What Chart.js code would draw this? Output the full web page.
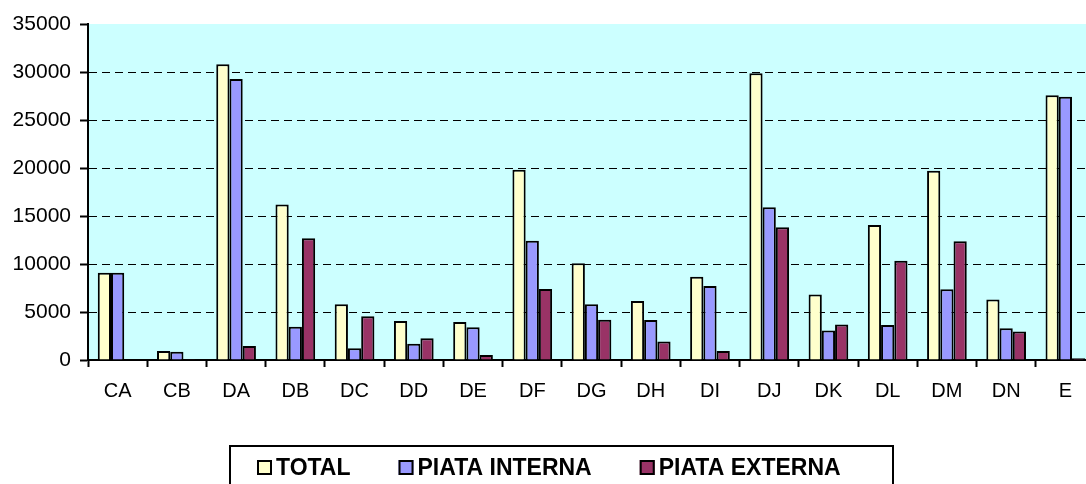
<!DOCTYPE html>
<html>
<head>
<meta charset="utf-8">
<script src="https://cdn.jsdelivr.net/npm/chart.js@4/dist/chart.umd.min.js"></script>
<style>
  html, body { margin: 0; padding: 0; background: #fff; }
  #wrap { width: 1086px; height: 484px; overflow: hidden; position: relative; }
  canvas { display: block; }
</style>
</head>
<body>
<div id="wrap"><canvas id="c" width="1100" height="484"></canvas></div>
<script>
const categories = ['CA','CB','DA','DB','DC','DD','DE','DF','DG','DH','DI','DJ','DK','DL','DM','DN','E'];
const seriesNames = ['TOTAL', 'PIATA INTERNA', 'PIATA EXTERNA'];
const totalValues    = [9100, 950, 30800, 16200, 5800, 4060, 3960, 19830, 10070, 6150, 8680, 29860, 6810, 14060, 19720, 6290, 27570];
const internalValues = [9100, 870, 29270, 3470, 1215, 1700, 3400, 12430, 5800, 4170, 7710, 15900, 3060, 3650, 7360, 3300, 27430];
const externalValues = [0, 90, 1460, 12670, 4550, 2260, 520, 7400, 4200, 1940, 940, 13820, 3710, 10350, 12360, 2980, 170];
const yTicks = [0, 5000, 10000, 15000, 20000, 25000, 30000, 35000];

const FONT = "Arial, 'Liberation Sans', Helvetica, sans-serif";

const plotBg = {
  id: 'plotBg',
  beforeDraw(chart) {
    const {ctx, chartArea: a} = chart;
    ctx.save();
    ctx.fillStyle = '#CCFFFF';
    ctx.fillRect(a.left, a.top, a.right - a.left, a.bottom - a.top);
    ctx.restore();
  }
};

const boxLegend = {
  id: 'boxLegend',
  afterDraw(chart) {
    const ctx = chart.ctx;
    ctx.save();
    ctx.strokeStyle = '#000';
    ctx.lineWidth = 2;
    ctx.strokeRect(230, 446, 663, 60);
    ctx.font = "bold 23px " + FONT;
    ctx.textBaseline = 'alphabetic';
    let x = 257;
    chart.data.datasets.forEach((ds) => {
      ctx.fillStyle = ds.backgroundColor;
      ctx.fillRect(x, 460, 15, 15);
      ctx.lineWidth = 2;
      ctx.strokeStyle = '#000';
      ctx.strokeRect(x + 1, 461, 13, 13);
      ctx.fillStyle = '#000';
      const tx = x + 19;
      ctx.fillText(ds.label, tx, 475);
      x = tx + ctx.measureText(ds.label).width + 48;
    });
    ctx.restore();
  }
};

const barStyle = { borderColor: '#000', borderWidth: 2, barPercentage: 1, categoryPercentage: 0.67 };

new Chart(document.getElementById('c'), {
  type: 'bar',
  data: {
    labels: categories,
    datasets: [
      Object.assign({ label: seriesNames[0], data: totalValues,    backgroundColor: '#FFFFCC' }, barStyle),
      Object.assign({ label: seriesNames[1], data: internalValues, backgroundColor: '#9999FF' }, barStyle),
      Object.assign({ label: seriesNames[2], data: externalValues, backgroundColor: '#993366' }, barStyle)
    ]
  },
  options: {
    responsive: false,
    devicePixelRatio: 1,
    animation: false,
    layout: { padding: { top: 24, right: 5, bottom: 84, left: 0 } },
    plugins: {
      legend: { display: false },
      tooltip: { enabled: false }
    },
    scales: {
      x: {
        offset: true,
        grid: {
          offset: true,
          drawOnChartArea: false,
          drawTicks: true,
          tickLength: 7,
          tickWidth: 2,
          tickColor: '#000',
          color: '#000'
        },
        border: { display: true, color: '#000', width: 2 },
        ticks: {
          color: '#000',
          font: { family: FONT, size: 20 },
          padding: 12,
          maxRotation: 0,
          autoSkip: false
        },
        afterFit(scale) { scale.height = 40; }
      },
      y: {
        min: 0,
        max: 35000,
        afterBuildTicks(scale) { scale.ticks = yTicks.map(v => ({ value: v })); },
        grid: {
          color: (c) => (c.tick && (c.tick.value === 0 || c.tick.value === 35000)) ? 'rgba(0,0,0,0)' : '#000',
          lineWidth: 1,
          tickColor: '#000',
          tickWidth: 2,
          tickLength: 8,
          tickBorderDash: []
        },
        border: { display: true, color: '#000', width: 2, dash: [8, 5] },
        ticks: {
          color: '#000',
          font: { family: FONT, size: 21 },
          padding: 9,
          callback: (v) => String(v)
        },
        afterFit(scale) { scale.width = 88; }
      }
    }
  },
  plugins: [plotBg, boxLegend]
});
</script>
</body>
</html>
